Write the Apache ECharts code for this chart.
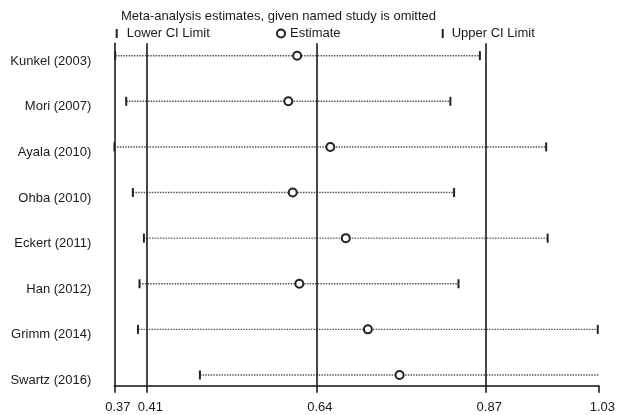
<!DOCTYPE html>
<html>
<head>
<meta charset="utf-8">
<script src="https://cdn.jsdelivr.net/npm/echarts@6/dist/echarts.min.js"></script>
<style>html,body{margin:0;padding:0;background:#fff}#c{width:618px;height:415px}</style>
</head>
<body>
<div id="c"></div>
<script>
var studies = ['Kunkel (2003)', 'Mori (2007)', 'Ayala (2010)', 'Ohba (2010)', 'Eckert (2011)', 'Han (2012)', 'Grimm (2014)', 'Swartz (2016)'];
var estimates = [0.614, 0.602, 0.659, 0.608, 0.680, 0.617, 0.710, 0.753];
var lowerCI = [0.367, 0.382, 0.366, 0.391, 0.406, 0.400, 0.398, 0.482];
var upperCI = [0.862, 0.822, 0.952, 0.827, 0.954, 0.833, 1.022, 1.024];
var overallLines = [0.41, 0.64, 0.87];
var tickValues = [0.3658, 0.41, 0.64, 0.87, 1.0235];
var tickLabels = ['0.37', '0.41', '0.64', '0.87', '1.03'];
var titleText = 'Meta-analysis estimates, given named study is omitted';

var FONT = "'Liberation Sans', Arial, sans-serif";
var TXT = '#1a1a1a';
var rows = studies.map(function (s, i) { return i + 1; });
var bar = 'path://M0,0h2v9h-2z';

var chart = echarts.init(document.getElementById('c'), null, {renderer: 'canvas'});
chart.setOption({
  animation: false,
  backgroundColor: '#fff',
  textStyle: {fontFamily: FONT},
  title: {
    text: titleText, left: 121, top: 10, padding: 0,
    textStyle: {fontSize: 13, fontWeight: 'normal', color: TXT, fontFamily: FONT}
  },
  legend: [
    {data: ['Lower CI Limit'], left: 115.7, top: 27, padding: 0, icon: bar, itemWidth: 2, itemHeight: 9,
     textStyle: {fontSize: 13, color: TXT, fontFamily: FONT, padding: [0, 0, 0, 4]}, selectedMode: false},
    {data: ['Estimate'], left: 276, top: 27, padding: 0, icon: 'emptyCircle', itemWidth: 8, itemHeight: 8,
     itemStyle: {borderWidth: 1.5},
     textStyle: {fontSize: 13, color: TXT, fontFamily: FONT}, selectedMode: false},
    {data: ['Upper CI Limit'], left: 441.7, top: 27, padding: 0, icon: bar, itemWidth: 2, itemHeight: 9,
     textStyle: {fontSize: 13, color: TXT, fontFamily: FONT, padding: [0, 0, 0, 3]}, selectedMode: false}
  ],
  grid: {left: 114.3, right: 17, top: 43.3, bottom: 29.3, containLabel: false},
  xAxis: {
    type: 'value', min: tickValues[0], max: tickValues[tickValues.length - 1],
    axisLine: {show: true, onZero: false, lineStyle: {color: '#111', width: 1.5}},
    axisTick: {show: true, customValues: tickValues, length: 7, lineStyle: {color: '#111', width: 1.5}},
    axisLabel: {
      customValues: tickValues, margin: 15, fontSize: 13, color: TXT, fontFamily: FONT,
      padding: [0, 0, 0, 7],
      formatter: function (v) {
        for (var i = 0; i < tickValues.length; i++) {
          if (Math.abs(tickValues[i] - v) < 1e-6) return tickLabels[i];
        }
        return '';
      }
    },
    splitLine: {show: false}
  },
  yAxis: {
    type: 'value', inverse: true, min: 0.728, max: 8.235,
    axisLine: {show: true, onZero: false, lineStyle: {color: '#111', width: 1.5}},
    axisTick: {show: false},
    axisLabel: {
      customValues: rows, margin: 23, fontSize: 13, color: TXT, fontFamily: FONT,
      verticalAlign: 'top', lineHeight: 11,
      formatter: function (v) { return studies[Math.round(v) - 1] || ''; }
    },
    splitLine: {show: false}
  },
  series: [
    {
      type: 'custom', name: 'CI',
      data: studies.map(function (s, i) { return [lowerCI[i], upperCI[i], rows[i]]; }),
      encode: {x: [0, 1], y: 2},
      renderItem: function (params, api) {
        var p1 = api.coord([api.value(0), api.value(2)]);
        var p2 = api.coord([api.value(1), api.value(2)]);
        return {
          type: 'line',
          shape: {x1: p1[0], y1: p1[1], x2: p2[0], y2: p2[1]},
          style: {stroke: '#555', lineWidth: 1.4, lineDash: [1.5, 1.2]}
        };
      },
      silent: true, z: 1
    },
    {
      type: 'scatter', name: 'Lower CI Limit', symbol: bar, symbolSize: [2, 9],
      data: studies.map(function (s, i) { return [lowerCI[i], rows[i]]; }),
      itemStyle: {color: '#222', opacity: 1}, z: 3,
      markLine: {
        silent: true, symbol: 'none', label: {show: false},
        lineStyle: {color: '#1a1a1a', width: 1.6, type: 'solid'},
        data: overallLines.map(function (v) { return {xAxis: v}; })
      }
    },
    {
      type: 'scatter', name: 'Upper CI Limit', symbol: bar, symbolSize: [2, 9],
      data: studies.map(function (s, i) { return [upperCI[i], rows[i]]; }),
      itemStyle: {color: '#222', opacity: 1}, z: 3
    },
    {
      type: 'scatter', name: 'Estimate', symbol: 'emptyCircle', symbolSize: 8,
      data: studies.map(function (s, i) { return [estimates[i], rows[i]]; }),
      itemStyle: {color: '#222', borderColor: '#222', borderWidth: 2, opacity: 1}, z: 4
    }
  ]
});
</script>
</body>
</html>
